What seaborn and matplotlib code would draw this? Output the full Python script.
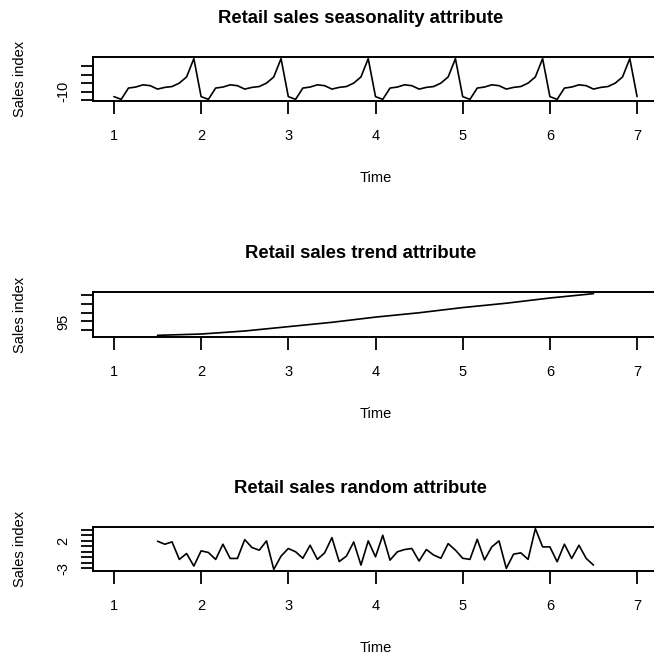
import matplotlib
matplotlib.use("Agg")
import matplotlib.pyplot as plt
import numpy as np
import pandas as pd
import seaborn as sns

# Seasonal effect for each month (Jan..Dec); the component repeats every year
seasonal_pattern = [-12.9, -14.5, -7.9, -7.3, -6.0, -6.5, -8.5, -7.5, -7.0, -5.0, -1.4, 9.3]
seasonal_first_year, seasonal_last_year = 1, 7

# Trend component (moving average, half a year lost at each end)
trend_time = [1.5, 2.0, 2.5, 3.0, 3.5, 4.0, 4.5, 5.0, 5.5, 6.0, 6.5]
trend_values = [93.4, 93.55, 93.9, 94.4, 94.9, 95.5, 96.0, 96.6, 97.1, 97.7, 98.2]

# Remainder component, monthly from 1.5 to 6.5
random_start = 1.5
random_values = [
    1.94, 1.39, 1.82, -1.41, -0.32, -2.63, 0.17, -0.13, -1.41, 1.39, -1.23, -1.23,
    2.24, 0.78, 0.29, 2.0, -3.24, -0.8, 0.6, 0.0, -1.2, 1.2, -1.4, -0.2,
    2.6, -1.8, -0.8, 1.8, -2.45, 2.0, -0.93, 3.04, -1.54, -0.01, 0.41, 0.6,
    -1.7, 0.41, -0.6, -1.2, 1.5, 0.3, -1.2, -1.4, 2.3, -1.5, 0.9, 2.0,
    -3.06, -0.44, -0.2, -1.4, 4.26, 0.9, 0.9, -1.84, 1.39, -1.23, 1.2, -1.23,
    -2.45,
]

x_ticks = [1, 2, 3, 4, 5, 6, 7]
seasonal_ticks = [-15, -10, -5, 0, 5]
seasonal_labels = ["", "-10", "", "", ""]
trend_ticks = [94, 95, 96, 97, 98]
trend_labels = ["", "95", "", "", ""]
random_ticks = [-3, -2, -1, 0, 1, 2, 3, 4]
random_labels = ["-3", "", "", "", "", "2", "", ""]

titles = [
    "Retail sales seasonality attribute",
    "Retail sales trend attribute",
    "Retail sales random attribute",
]

# monthly time index for the seasonal series
n_months = (seasonal_last_year - seasonal_first_year) * 12 + 1
seasonal_time = [seasonal_first_year + k / 12 for k in range(n_months)]
seasonal_values = [seasonal_pattern[k % 12] for k in range(n_months)]
random_time = [random_start + k / 12 for k in range(len(random_values))]

frames = [
    pd.DataFrame({"Time": seasonal_time, "Sales index": seasonal_values}),
    pd.DataFrame({"Time": trend_time, "Sales index": trend_values}),
    pd.DataFrame({"Time": random_time, "Sales index": random_values}),
]
tick_sets = [
    (seasonal_ticks, seasonal_labels),
    (trend_ticks, trend_labels),
    (random_ticks, random_labels),
]

sns.set_theme(style="white")
plt.rcParams["font.family"] = ["Liberation Sans", "DejaVu Sans"]
plt.rcParams["text.color"] = "black"
plt.rcParams["axes.labelcolor"] = "black"

W, H = 654, 657
fig = plt.figure(figsize=(W / 100, H / 100), dpi=100)

# panel boxes in pixels (top, bottom); plot region runs past the right edge
panel_rows = [(57, 101), (292, 337), (527, 571)]
left_px, right_px = 93, 658

# x range padded by 4% like a base-graphics time-series plot
x_lo, x_hi = min(seasonal_time), max(seasonal_time)
x_pad = 0.04 * (x_hi - x_lo)

for (top, bot), df, title, (yt, yl) in zip(panel_rows, frames, titles, tick_sets):
    ax = fig.add_axes([left_px / W, 1 - bot / H, (right_px - left_px) / W, (bot - top) / H])
    sns.lineplot(data=df, x="Time", y="Sales index", ax=ax, color="black",
                 linewidth=1.2, sort=False, estimator=None)
    lo, hi = df["Sales index"].min(), df["Sales index"].max()
    pad = 0.04 * (hi - lo)
    ax.set_ylim(lo - pad, hi + pad)
    ax.set_xlim(x_lo - x_pad, x_hi + x_pad)

    ax.set_xticks(x_ticks)
    ax.set_xticklabels([str(t) for t in x_ticks], fontsize=10.5)
    ax.set_yticks(yt)
    ax.set_yticklabels(yl, fontsize=10.5, rotation=90, va="center")

    for sp in ax.spines.values():
        sp.set_color("black")
        sp.set_linewidth(1.4)
    ax.tick_params(axis="both", which="major", direction="out", length=9, width=1.3,
                   color="black", labelcolor="black", bottom=True, left=True)
    ax.tick_params(axis="x", pad=11)
    ax.tick_params(axis="y", pad=7.5)

    ax.set_xlabel("Time", fontsize=10.5, labelpad=20)
    ax.set_ylabel("Sales index", fontsize=10.5, labelpad=21)
    ax.set_title(title, fontsize=13.3, fontweight="bold", pad=24.5, x=0.474)
    ax.grid(False)

fig.savefig("out.png", dpi=100)
